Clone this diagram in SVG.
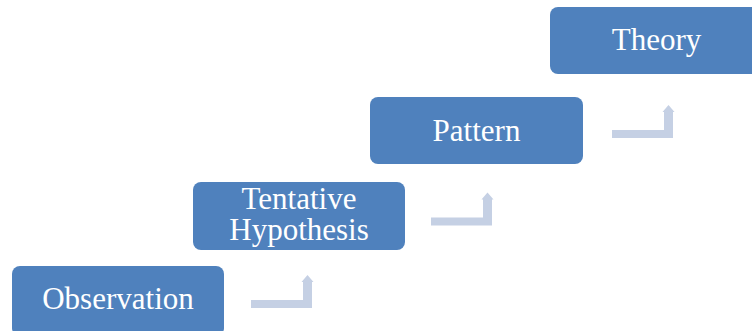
<svg xmlns="http://www.w3.org/2000/svg" width="752" height="331" viewBox="0 0 752 331">
<defs>
<style>
.box{fill:#4F81BD;}
.lbl{fill:#FFFFFF;font-size:31px;text-anchor:middle;}
.conn{fill:#C5D0E4;}
</style>
<path id="bent" d="M0,0 H52 V-18 H50.5 L56.5,-25 L62.5,-18 H61 V8 H0 Z"/>
</defs>
<rect width="752" height="331" fill="#FFFFFF"/>
<g id="connectors">
<use href="#bent" class="conn" x="251" y="300"/>
<use href="#bent" class="conn" x="431" y="217.5"/>
<use href="#bent" class="conn" x="612" y="130"/>
</g>
<g font-family="'Liberation Serif', 'Times New Roman', 'DejaVu Serif', serif">
<g id="observation">
<rect class="box" x="12" y="266" width="212" height="70" rx="8"/>
<text class="lbl" x="118" y="309">Observation</text>
</g>
<g id="tentative-hypothesis">
<rect class="box" x="193" y="182" width="212" height="68" rx="8"/>
<text class="lbl" x="299" y="209">Tentative</text>
<text class="lbl" x="299" y="240">Hypothesis</text>
</g>
<g id="pattern">
<rect class="box" x="370" y="97" width="213" height="67" rx="8"/>
<text class="lbl" x="476.5" y="141">Pattern</text>
</g>
<g id="theory">
<rect class="box" x="550" y="7" width="214" height="67" rx="8"/>
<text class="lbl" x="656.5" y="50">Theory</text>
</g>
</g>
</svg>
